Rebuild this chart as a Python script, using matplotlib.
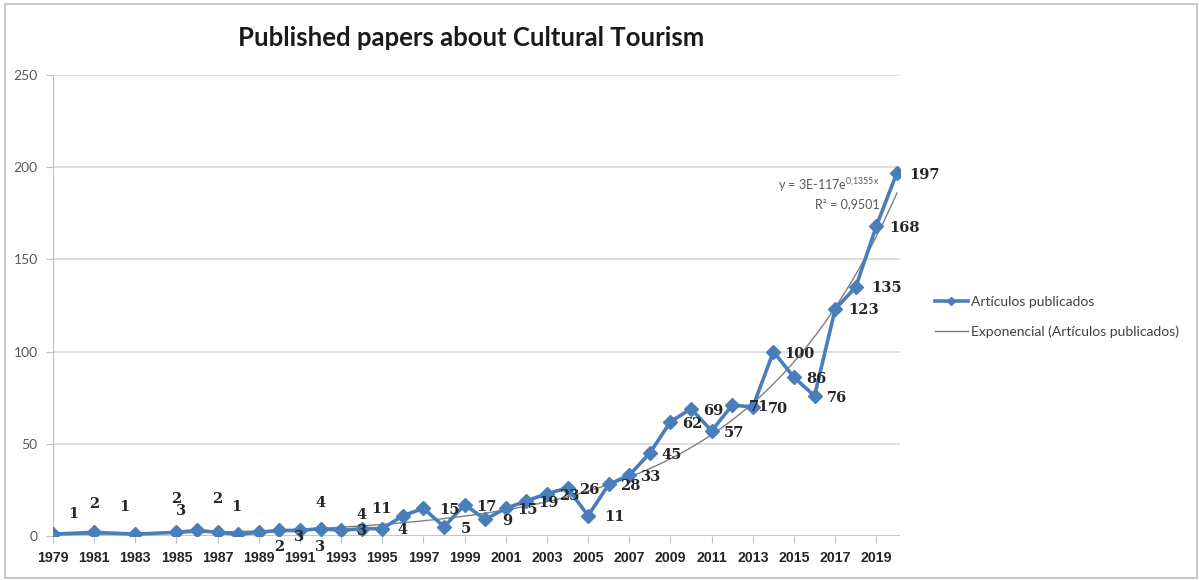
import numpy as np
import matplotlib.pyplot as plt
from matplotlib.patches import Rectangle

# Published papers per year (1980, 1982 and 1984 have no entries)
years = [1979, 1981, 1983] + list(range(1985, 2021))
papers = [1, 2, 1,
          2, 3, 2, 1, 2, 3, 3, 4, 3, 4, 4, 11, 15, 5, 17, 9,
          15, 19, 23, 26, 11, 28, 33, 45, 62, 69, 57, 71, 70,
          100, 86, 76, 123, 135, 168, 197]

title = "Published papers about Cultural Tourism"
series_name = "Artículos publicados"
trend_name = "Exponencial (Artículos publicados)"
eq_text = r"y = 3E-117e$^{\mathregular{0{,}1355x}}$"
r2_text = "R² = 0,9501"

yticks = [0, 50, 100, 150, 200, 250]
xticks = list(range(1979, 2021, 2))

blue = "#4a7ebb"
grid = "#d9d9d9"

# label offsets in pixels (dx, dy up) -- default sits right of the marker
label_default = (22, -2)
label_shift = {
    1979: (20, 20), 1981: (0, 28), 1983: (-11, 27), 1985: (0, 33),
    1986: (-16, 19), 1987: (0, 33), 1988: (-2, 27), 1989: (20, -15),
    1990: (20, -7), 1991: (20, -17), 1992: (0, 26), 1993: (21, -1),
    1994: (0, 14), 1995: (20, -1), 1996: (-21, 7), 1997: (26, -2),
    2005: (26, -1), 2012: (27, -2), 2013: (25, -2), 2014: (26, -2),
    2017: (28, -1), 2018: (31, -1), 2019: (28, -2), 2020: (28, -2),
}

fig = plt.figure(figsize=(11.99, 5.8), dpi=100)
fig.patch.set_facecolor("white")
fig.add_artist(Rectangle((5 / 1199, 2 / 580), 1192 / 1199, 574 / 580,
                         transform=fig.transFigure, fill=False,
                         edgecolor="#bfbfbf", linewidth=1.2))

# plot area in pixels: x 53..900, y 75..536 (top-down)
ax = fig.add_axes([53 / 1199, 44 / 580, 847 / 1199, 461 / 580])
ax.set_xlim(1979, 2020.15)
ax.set_ylim(0, 250)

for s in ["top", "right", "bottom"]:
    ax.spines[s].set_visible(False)
ax.spines["left"].set_color("#bfbfbf")
ax.set_yticks(yticks)
ax.yaxis.grid(True, color=grid, linewidth=1.2)
ax.set_axisbelow(True)
ax.axhline(0, color="#bfbfbf", linewidth=1.2, zorder=1)
ax.tick_params(axis="y", length=5, color="#bfbfbf", labelsize=10,
               labelcolor="#595959", pad=6)
for lab in ax.get_yticklabels():
    lab.set_fontfamily("Lato")

ax.set_xticks(xticks)
ax.set_xticklabels([str(y) for y in xticks], fontfamily="Liberation Sans",
                   fontweight="bold", fontsize=10.2, color="#262626",
                   fontstretch="condensed")
ax.tick_params(axis="x", length=5, color="#bfbfbf", pad=6)

# exponential trend fitted on log values
yrs = np.array(years, dtype=float)
vals = np.array(papers, dtype=float)
b, a = np.polyfit(yrs, np.log(vals), 1)
xs = np.linspace(1979, 2020, 200)
ax.plot(xs, np.exp(a + b * xs), color="#7f7f7f", linewidth=1.0, zorder=3,
        label=trend_name)

ax.plot(years, papers, color=blue, linewidth=2.6, marker="D", markersize=7,
        markerfacecolor=blue, markeredgecolor=blue, zorder=4, label=series_name)

for yr, v in zip(years, papers):
    dx, dy = label_shift.get(yr, label_default)
    ax.annotate(str(v), (yr, v), xytext=(dx * 0.72, dy * 0.72),
                textcoords="offset points", ha="center", va="center",
                fontfamily="DejaVu Serif", fontweight="bold", fontsize=10.5,
                color="#262626", zorder=5)

ax.text(2019.15, 190.5, eq_text, ha="right", va="center", fontsize=9,
        fontfamily="Lato", color="#595959")
ax.text(2019.15, 180.0, r2_text, ha="right", va="center", fontsize=9,
        fontfamily="Lato", color="#595959")

fig.text(471 / 1199, 1 - 38 / 580, title, ha="center", va="center",
         fontsize=18.5, fontweight="bold", fontfamily="Lato", color="#1a1a1a")

handles, labels = ax.get_legend_handles_labels()
leg = fig.legend(handles[::-1], labels[::-1], loc="center left",
                 bbox_to_anchor=(922 / 1199, 1 - 317 / 580), frameon=False,
                 prop={"family": "Lato", "size": 10}, handlelength=2.4,
                 labelspacing=1.3, handletextpad=0.2, markerscale=0.6)
for t in leg.get_texts():
    t.set_color("#404040")

fig.savefig("out.png", dpi=100, facecolor="white")
